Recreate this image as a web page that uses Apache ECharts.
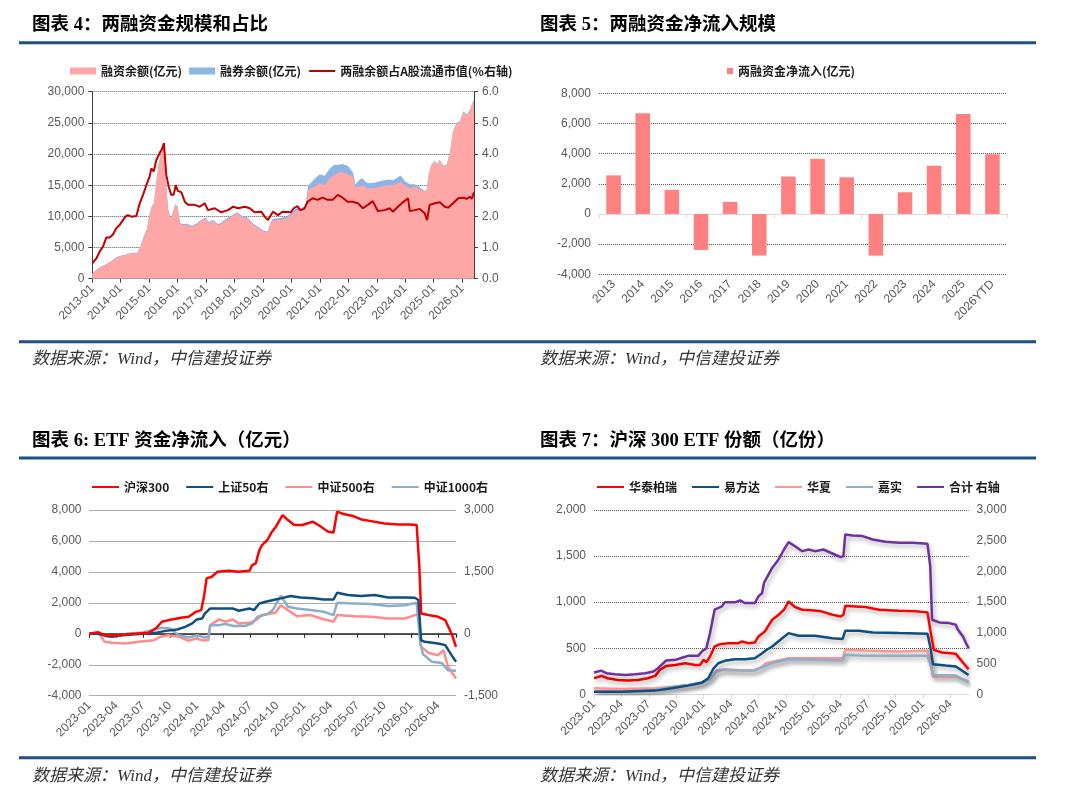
<!DOCTYPE html>
<html>
<head>
<meta charset="utf-8">
<title>两融资金与ETF资金流向</title>
<script src="https://cdn.jsdelivr.net/npm/echarts@6.0.0/dist/echarts.min.js"></script>
<style>
html, body { margin: 0; padding: 0; background: #fff; }
#main { width: 1080px; height: 798px; }
</style>
</head>
<body>
<div id="main"></div>
<script>
"use strict";

// 图表4：两融规模（x = 自2013-01起的月数）
var areaMonths = [0, 2, 4, 6, 8, 10, 12, 14, 16, 18, 19, 20, 21, 22, 23, 24, 25, 26, 27, 28, 29, 30, 31, 32, 33, 34, 35, 36, 37, 38, 40, 42, 44, 45, 47, 48, 49, 51, 53, 54, 56, 59, 61, 63, 65, 66, 68, 70, 72, 74, 75, 76, 77, 79, 82, 84, 86, 88, 89, 90, 91, 92, 94, 96, 98, 100, 102, 104, 105, 107, 108, 110, 111, 113, 114, 116, 119, 122, 125, 127, 130, 132, 134, 136, 138, 140, 141, 142, 143, 144.5, 145.5, 146.5, 148, 149.5, 151, 152, 153.5, 155, 156.5, 158, 159.5, 161];
var finBal = [800, 1450, 1950, 2300, 2750, 3350, 3600, 3800, 4000, 4050, 4100, 4850, 5800, 6900, 7700, 9900, 11300, 11800, 15500, 18200, 19800, 21600, 15800, 11000, 9500, 10500, 11800, 11400, 8800, 8600, 8650, 8350, 8700, 9000, 9500, 9600, 8900, 9250, 8600, 8700, 9300, 10000, 10500, 9950, 9700, 9450, 8600, 8100, 7600, 7400, 8700, 9300, 9400, 9400, 9700, 10200, 10900, 10900, 11000, 11300, 14000, 14500, 14800, 15300, 15000, 16000, 16700, 17000, 17100, 16900, 16700, 16300, 14700, 14800, 15000, 14500, 14500, 14800, 15000, 15000, 15500, 14900, 14500, 14800, 14400, 14000, 14100, 16900, 18200, 18800, 18300, 19000, 18000, 18200, 20400, 23300, 24800, 25100, 26700, 26200, 27100, 28700];
var secBal = [40, 50, 60, 70, 80, 80, 90, 90, 100, 100, 100, 120, 150, 180, 200, 220, 240, 250, 260, 260, 250, 250, 220, 200, 180, 170, 170, 160, 160, 160, 160, 160, 160, 170, 170, 180, 180, 180, 180, 180, 180, 180, 180, 180, 180, 180, 180, 180, 180, 180, 200, 220, 250, 280, 300, 350, 400, 450, 500, 550, 900, 800, 1300, 1450, 1500, 1600, 1600, 1300, 1300, 1340, 1340, 700, 450, 1200, 1070, 800, 900, 900, 900, 800, 1070, 700, 640, 370, 370, 120, 100, 100, 100, 120, 120, 120, 130, 130, 130, 140, 140, 140, 150, 150, 150, 150];
var ratioLine = [[0, 0.49], [1.7, 0.65], [3.1, 0.87], [4.5, 1.03], [5.9, 1.32], [7.3, 1.32], [8.7, 1.42], [10.1, 1.62], [11.5, 1.72], [12.9, 1.88], [13.9, 1.99], [15, 2.04], [16.5, 1.99], [18.6, 2.01], [20, 2.42], [21.4, 2.69], [22.8, 3.0], [24.2, 3.28], [24.9, 3.54], [25.9, 3.44], [27, 3.81], [28.4, 4.03], [29.4, 4.16], [30.2, 4.35], [31.2, 3.33], [32.2, 2.96], [33.3, 2.69], [34.3, 2.69], [35.2, 3.0], [36.1, 2.82], [37.6, 2.77], [39, 2.47], [40.4, 2.37], [43.2, 2.37], [45.3, 2.31], [47.4, 2.42], [48.8, 2.2], [51.6, 2.26], [54.4, 2.13], [57.2, 2.2], [59.4, 2.31], [61.5, 2.26], [64.3, 2.31], [66.4, 2.26], [68.5, 2.13], [71.3, 2.15], [72.7, 1.99], [74.1, 1.88], [76.2, 2.15], [78.3, 2.04], [80.2, 2.15], [83.7, 2.13], [85, 2.26], [86.5, 2.33], [87.7, 2.2], [89.4, 2.24], [90.8, 2.47], [92.9, 2.58], [95, 2.53], [97.1, 2.6], [99.3, 2.53], [101.4, 2.53], [103.5, 2.69], [105.6, 2.6], [107.7, 2.47], [109.8, 2.47], [112, 2.42], [114.1, 2.26], [116.2, 2.37], [118.3, 2.49], [120.4, 2.17], [123.3, 2.2], [125.4, 2.26], [126.8, 2.15], [128.9, 2.31], [131, 2.45], [133.2, 2.58], [133.9, 2.17], [136, 2.2], [138.1, 2.24], [140.2, 2.1], [141.2, 1.88], [142.3, 2.37], [144.5, 2.42], [146.6, 2.45], [148.7, 2.31], [150.1, 2.28], [152.2, 2.42], [154.3, 2.58], [156.5, 2.6], [157.9, 2.56], [159.3, 2.63], [160, 2.56], [161, 2.77]];

// 图表5：两融资金净流入
var flowYears = ['2013', '2014', '2015', '2016', '2017', '2018', '2019', '2020', '2021', '2022', '2023', '2024', '2025', '2026YTD'];
var flowVals = [2560, 6670, 1590, -2390, 800, -2760, 2480, 3650, 2430, -2760, 1440, 3200, 6630, 3960];

// 图表6：ETF资金净流入（x = 自2023-01起的月数；后三条为右轴数值）
var hs300Flow = [[0, 0], [1, 100], [1.7, -100], [3.2, -100], [5.1, 0], [6.6, 60], [7.4, 340], [8.1, 780], [9.2, 930], [10.4, 1060], [11.1, 1100], [11.9, 1420], [12.5, 1530], [12.8, 2390], [13.1, 3580], [13.7, 3690], [14.3, 4010], [15.6, 4070], [16.7, 4010], [17.9, 4070], [18.2, 4440], [18.6, 4550], [19, 5410], [19.3, 5730], [19.9, 6060], [20.3, 6490], [20.85, 6920], [21.6, 7670], [22.2, 7350], [22.9, 7030], [23.8, 7030], [25, 7240], [25.9, 6920], [26.7, 6600], [27.3, 6550], [27.7, 7890], [28.4, 7740], [29.5, 7610], [30.4, 7390], [31.5, 7280], [33, 7130], [34.5, 7070], [35.8, 7070], [36.6, 7030], [36.9, 4330], [37.1, 1310], [37.9, 1210], [39, 1100], [39.8, 880], [40.5, 20], [41, -840]];
var sz50Flow = [[0, 0], [1, 0], [1.7, -34], [2.5, -71], [3.6, -34], [5.1, -8], [6.6, 8], [7.4, 23], [8.5, 71], [9.8, 105], [10.7, 169], [11.5, 251], [12, 349], [12.6, 371], [12.9, 491], [13.5, 615], [14.5, 615], [16, 615], [16.7, 559], [17.9, 615], [18.4, 574], [19, 735], [19.7, 776], [20.8, 833], [21.4, 859], [22.5, 915], [23.6, 881], [25.1, 859], [26.2, 833], [27.3, 833], [27.7, 994], [28.9, 938], [30.4, 915], [31.9, 938], [33.4, 881], [35.3, 881], [36.4, 874], [36.8, 818], [37.1, -154], [37.5, -195], [39, -233], [39.8, -274], [40.5, -518], [41, -679]];
var zz500Flow = [[0, 0], [1, 23], [1.7, -195], [2.5, -218], [4, -233], [5.5, -195], [7.2, -154], [7.9, -71], [8.8, -34], [10, -71], [11.1, -169], [11.9, -113], [12.6, -154], [13.3, -154], [13.5, 210], [14.5, 349], [15.2, 293], [16, 349], [16.7, 251], [17.9, 266], [18.6, 330], [19.3, 454], [20.8, 510], [21.4, 694], [22.2, 574], [23.2, 428], [24.7, 454], [25.9, 371], [27.3, 293], [27.7, 454], [29.6, 428], [31.5, 413], [33.4, 371], [35.3, 371], [36.4, 454], [36.8, 454], [37.1, -315], [37.9, -461], [39, -518], [39.6, -398], [40.1, -799], [41, -1084]];
var zz1000Flow = [[0, 0], [1, 0], [2.1, -71], [3.2, -56], [4.3, 8], [5.8, 23], [7, 90], [8.1, 146], [9, 128], [10, -34], [11.1, -90], [12, -34], [12.9, -90], [13.3, -71], [13.5, 210], [14.5, 210], [15.2, 236], [16.1, 188], [17.4, 188], [18.2, 251], [18.8, 413], [19.9, 476], [20.5, 574], [21.4, 923], [22.2, 656], [23.2, 615], [24.7, 574], [26.2, 533], [27.3, 454], [27.7, 750], [29.6, 735], [31.5, 720], [33.4, 671], [35.3, 694], [36.6, 750], [37, -233], [37.3, -491], [38.3, -679], [39.4, -705], [40.1, -881], [41, -896]];

// 图表7：沪深300 ETF份额（合计为右轴）
var htbrShare = [[0, 174], [0.8, 200], [1.5, 174], [2.6, 156], [3.7, 149], [4.8, 156], [5.9, 174], [6.7, 200], [7.2, 265], [7.9, 308], [8.9, 319], [10, 337], [11.1, 319], [11.6, 319], [12, 374], [12.3, 348], [12.7, 410], [13.2, 519], [13.8, 544], [14.7, 555], [15.8, 555], [16.2, 573], [16.9, 555], [17.6, 562], [18, 628], [18.7, 682], [19.5, 809], [20.2, 863], [20.8, 918], [21.3, 1009], [22, 947], [22.8, 918], [23.8, 911], [24.9, 900], [26.1, 863], [27, 845], [27.3, 863], [27.5, 961], [28.6, 954], [29.7, 947], [31.2, 918], [33.4, 907], [35.2, 900], [36.5, 889], [36.8, 700], [37.2, 482], [38.1, 453], [39.6, 439], [39.8, 426], [40.4, 343], [41, 271]];
var efdShare = [[0, 29], [3, 29], [6.7, 40], [8.5, 65], [10.3, 94], [11.8, 127], [12.5, 174], [13.1, 283], [13.6, 337], [14.3, 363], [15.4, 381], [16.5, 381], [17.6, 392], [18.4, 446], [18.9, 483], [19.5, 519], [20.6, 609], [21.3, 664], [22.4, 635], [24.2, 635], [26.1, 609], [27.2, 599], [27.5, 689], [29, 689], [30.5, 671], [33.4, 664], [36.5, 657], [36.8, 519], [37.1, 327], [38.5, 312], [39.6, 301], [39.8, 300], [41, 209]];
var hxShare = [[0, 65], [3, 58], [6.7, 65], [8.5, 83], [10.3, 102], [11.8, 120], [12.7, 174], [13.4, 258], [14.3, 272], [16.5, 258], [17.6, 265], [18.4, 301], [18.8, 337], [19.7, 356], [21.3, 392], [24.2, 392], [27.2, 392], [27.5, 483], [29.7, 475], [33.4, 464], [36.5, 475], [36.8, 374], [37.1, 192], [39.6, 192], [41, 140]];
var jsShare = [[0, 29], [3, 27], [6.7, 47], [8.5, 76], [10.3, 102], [11.8, 127], [12.7, 163], [13.4, 247], [14.3, 265], [16.5, 258], [17.6, 258], [18.4, 294], [19.7, 345], [21.3, 381], [24.2, 374], [27.2, 366], [27.5, 428], [29.7, 417], [33.4, 417], [36.5, 417], [36.9, 301], [37.1, 210], [39.6, 203], [41, 130]];
var totalShare = [[0, 354], [0.8, 386], [1.35, 343], [2.3, 327], [3.4, 316], [4.5, 327], [5.6, 343], [6.5, 370], [7, 425], [7.9, 550], [8.9, 561], [9.8, 604], [10.3, 626], [11.4, 626], [11.8, 697], [12.3, 751], [12.7, 996], [13.2, 1377], [14, 1431], [14.3, 1497], [15.4, 1497], [16, 1529], [16.5, 1486], [17.6, 1486], [18, 1595], [18.4, 1649], [18.6, 1813], [18.9, 1894], [19.5, 2057], [20.2, 2194], [20.8, 2357], [21.3, 2477], [22, 2411], [22.8, 2330], [23.5, 2357], [24.2, 2330], [25.1, 2357], [26.1, 2292], [27, 2232], [27.3, 2248], [27.5, 2602], [28.3, 2585], [29.4, 2575], [30.5, 2520], [31.9, 2482], [33.4, 2466], [34.9, 2466], [36.5, 2449], [36.8, 2085], [37, 1214], [37.8, 1170], [38.9, 1159], [39.6, 1132], [39.8, 1058], [40.4, 938], [40.7, 840], [41, 749]];

var SANS = '"Liberation Sans", "Noto Sans CJK SC", sans-serif';
var CJK = '"Noto Sans CJK SC", sans-serif';
var TITLE = '"Liberation Serif", "Noto Sans CJK SC", serif';
var GRID_LINE = { show: true, lineStyle: { color: '#595959', type: 'dotted', width: 1 } };
var AXIS_LABEL = { color: '#595959', fontSize: 12, fontFamily: SANS };

function fmtThousands(v) {
	return v.toLocaleString('en-US');
}
function yearLabel(v) {
	return v % 12 === 0 ? (2013 + v / 12) + '-01' : '';
}
function quarterLabel(v) {
	if (v % 3 !== 0) return '';
	var y = 2023 + Math.floor(v / 12);
	var m = v % 12 + 1;
	return y + '-' + (m < 10 ? '0' : '') + m;
}
// 图例里的折线只画线，不要中间的小圆点
function lineItem(name) {
	return { name: name, itemStyle: { opacity: 0 } };
}

// 融券叠在融资上面：蓝色面积画总额，粉色盖在下面
var finData = areaMonths.map(function (m, i) { return [m, finBal[i]]; });
var totalData = areaMonths.map(function (m, i) { return [m, finBal[i] + secBal[i]]; });

function lineSeries(name, data, color, xIdx, yIdx, z, shadow) {
	var ls = { color: color, width: 2.5 };
	if (shadow) {
		ls.shadowColor = 'rgba(0,0,0,0.3)';
		ls.shadowBlur = 4;
		ls.shadowOffsetX = 2;
		ls.shadowOffsetY = 3;
	}
	return {
		name: name, type: 'line', xAxisIndex: xIdx, yAxisIndex: yIdx,
		data: data, symbol: 'none', z: z,
		itemStyle: { color: color }, lineStyle: ls
	};
}

var myChart = echarts.init(document.getElementById('main'), null, { renderer: 'canvas' });

var ruleColor = '#1D5181';
var graphics = [];
[42.7, 341.7, 458, 757.7].forEach(function (y) {
	graphics.push({ type: 'rect', shape: { x: 19, y: y - 1.5, width: 1017, height: 3 }, style: { fill: ruleColor }, silent: true });
});
var titles = [
	['图表 4：两融资金规模和占比', 32, 25],
	['图表 5：两融资金净流入规模', 540, 25],
	['图表 6: ETF 资金净流入（亿元）', 32, 441.7],
	['图表 7：沪深 300 ETF 份额（亿份）', 540, 441.7]
];
titles.forEach(function (t) {
	graphics.push({ type: 'text', x: t[1], y: t[2], silent: true,
		style: { text: t[0], fill: '#000', fontSize: 18.5, fontWeight: 'bold', fontFamily: TITLE, verticalAlign: 'middle' } });
});
[[32, 359.5], [540, 359.5], [32, 776.5], [540, 776.5]].forEach(function (p) {
	graphics.push({ type: 'text', x: p[0], y: p[1], silent: true,
		style: { text: '数据来源：Wind，中信建投证券', fill: '#333', fontSize: 17, fontStyle: 'italic', fontFamily: TITLE, verticalAlign: 'middle' } });
});

var legendText = { fontSize: 12, fontFamily: CJK, color: '#1a1a1a', fontWeight: 'bold' };

var option = {
	animation: false,
	backgroundColor: '#fff',
	graphic: { elements: graphics },
	legend: [
		{ left: 65, top: 60, itemWidth: 26, itemHeight: 7, itemGap: 7, textStyle: legendText,
		  data: [{ name: '融资余额(亿元)', icon: 'rect' }, { name: '融券余额(亿元)', icon: 'rect' }, lineItem('两融余额占A股流通市值(%右轴)')] },
		{ left: 722, top: 60, itemWidth: 6, itemHeight: 6, textStyle: legendText,
		  data: [{ name: '两融资金净流入(亿元)', icon: 'rect' }] },
		{ left: 86, top: 476, itemWidth: 27, itemHeight: 10, itemGap: 16, textStyle: legendText,
		  data: ['沪深300', '上证50右', '中证500右', '中证1000右'].map(lineItem) },
		{ left: 591, top: 476, itemWidth: 27, itemHeight: 10, itemGap: 14, textStyle: legendText,
		  data: ['华泰柏瑞', '易方达', '华夏', '嘉实', '合计 右轴'].map(lineItem) }
	],
	grid: [
		{ left: 92.3, right: 606, top: 91.7, height: 187, containLabel: false, outerBoundsMode: 'none' },
		{ left: 599, right: 73, top: 93.3, height: 181, containLabel: false, outerBoundsMode: 'none' },
		{ left: 89.5, right: 624, top: 510, height: 185.7, containLabel: false, outerBoundsMode: 'none' },
		{ left: 594, right: 111.4, top: 510, height: 184.3, containLabel: false, outerBoundsMode: 'none' }
	],
	xAxis: [
		// 0 图表4
		{ type: 'value', gridIndex: 0, min: 0, max: 161, interval: 12,
		  axisLine: { show: true, lineStyle: { color: '#404040' } },
		  axisTick: { show: true, length: 4, lineStyle: { color: '#404040' } },
		  axisLabel: Object.assign({ rotate: 45, formatter: yearLabel, showMaxLabel: false }, AXIS_LABEL),
		  splitLine: { show: false } },
		// 1 图表5 标签
		{ type: 'category', gridIndex: 1, data: flowYears, position: 'bottom',
		  axisLine: { show: false, onZero: false }, axisTick: { show: false },
		  axisLabel: Object.assign({ rotate: 45, interval: 0 }, AXIS_LABEL), splitLine: { show: false } },
		// 2 图表5 零轴
		{ type: 'category', gridIndex: 1, data: flowYears, position: 'top',
		  axisLine: { show: true, onZero: true, lineStyle: { color: '#D9D9D9' } },
		  axisTick: { show: true, inside: true, length: 4, lineStyle: { color: '#D9D9D9' } },
		  axisLabel: { show: false }, splitLine: { show: false } },
		// 3 图表6 标签
		{ type: 'value', gridIndex: 2, min: 0, max: 41, interval: 3, position: 'bottom',
		  axisLine: { show: false, onZero: false }, axisTick: { show: false },
		  axisLabel: Object.assign({ rotate: 45, formatter: quarterLabel, showMaxLabel: false }, AXIS_LABEL),
		  splitLine: { show: false } },
		// 4 图表6 零轴
		{ type: 'value', gridIndex: 2, min: 0, max: 41, interval: 3, position: 'top',
		  axisLine: { show: true, onZero: true, lineStyle: { color: '#262626', width: 1.5 } },
		  axisTick: { show: true, inside: true, length: 4, lineStyle: { color: '#262626' } },
		  axisLabel: { show: false }, splitLine: { show: false } },
		// 5 图表7
		{ type: 'value', gridIndex: 3, min: 0, max: 41, interval: 3,
		  axisLine: { show: true, lineStyle: { color: '#D9D9D9' } },
		  axisTick: { show: true, length: 4, lineStyle: { color: '#D9D9D9' } },
		  axisLabel: Object.assign({ rotate: 45, formatter: quarterLabel, showMaxLabel: false }, AXIS_LABEL),
		  splitLine: { show: false } }
	],
	yAxis: [
		// 0,1 图表4
		{ type: 'value', gridIndex: 0, min: 0, max: 30000, interval: 5000,
		  axisLine: { show: true, lineStyle: { color: '#404040' } },
		  axisTick: { show: true, length: 4, lineStyle: { color: '#404040' } },
		  axisLabel: Object.assign({ formatter: fmtThousands }, AXIS_LABEL), splitLine: GRID_LINE },
		{ type: 'value', gridIndex: 0, min: 0, max: 6, interval: 1, position: 'right',
		  axisLine: { show: true, lineStyle: { color: '#404040' } },
		  axisTick: { show: true, length: 4, lineStyle: { color: '#404040' } },
		  axisLabel: Object.assign({ formatter: function (v) { return v.toFixed(1); } }, AXIS_LABEL),
		  splitLine: { show: false } },
		// 2 图表5
		{ type: 'value', gridIndex: 1, min: -4000, max: 8000, interval: 2000,
		  axisLine: { show: false }, axisTick: { show: false },
		  axisLabel: Object.assign({ formatter: fmtThousands }, AXIS_LABEL), splitLine: GRID_LINE },
		// 3,4 图表6
		{ type: 'value', gridIndex: 2, min: -4000, max: 8000, interval: 2000,
		  axisLine: { show: false }, axisTick: { show: false },
		  axisLabel: Object.assign({ formatter: fmtThousands }, AXIS_LABEL), splitLine: GRID_LINE },
		{ type: 'value', gridIndex: 2, min: -1500, max: 3000, interval: 1500, position: 'right',
		  axisLine: { show: false }, axisTick: { show: false },
		  axisLabel: Object.assign({ formatter: fmtThousands }, AXIS_LABEL), splitLine: { show: false } },
		// 5,6 图表7
		{ type: 'value', gridIndex: 3, min: 0, max: 2000, interval: 500,
		  axisLine: { show: false }, axisTick: { show: false },
		  axisLabel: Object.assign({ formatter: fmtThousands }, AXIS_LABEL), splitLine: GRID_LINE },
		{ type: 'value', gridIndex: 3, min: 0, max: 3000, interval: 500, position: 'right',
		  axisLine: { show: false }, axisTick: { show: false },
		  axisLabel: Object.assign({ formatter: fmtThousands }, AXIS_LABEL), splitLine: { show: false } }
	],
	series: [
		{ name: '融券余额(亿元)', type: 'line', xAxisIndex: 0, yAxisIndex: 0, data: totalData,
		  symbol: 'none', z: 2, itemStyle: { color: '#8DB4E2' }, lineStyle: { width: 0 },
		  areaStyle: { color: '#8DB4E2', opacity: 1 } },
		{ name: '融资余额(亿元)', type: 'line', xAxisIndex: 0, yAxisIndex: 0, data: finData,
		  symbol: 'none', z: 3, itemStyle: { color: '#FFA6A6' }, lineStyle: { width: 0 },
		  areaStyle: { color: '#FFA6A6', opacity: 1 } },
		{ name: '两融余额占A股流通市值(%右轴)', type: 'line', xAxisIndex: 0, yAxisIndex: 1, data: ratioLine,
		  symbol: 'none', z: 4, itemStyle: { color: '#C00000' }, lineStyle: { color: '#C00000', width: 2 } },

		{ name: '两融资金净流入(亿元)', type: 'bar', xAxisIndex: 1, yAxisIndex: 2, data: flowVals,
		  barWidth: '50%', itemStyle: { color: '#FF8080' } },

		lineSeries('沪深300', hs300Flow, '#FF0000', 3, 3, 6, false),
		lineSeries('上证50右', sz50Flow, '#0E4F7F', 3, 4, 5, false),
		lineSeries('中证500右', zz500Flow, '#FF8C8C', 3, 4, 3, false),
		lineSeries('中证1000右', zz1000Flow, '#8CACC8', 3, 4, 4, false),

		lineSeries('华泰柏瑞', htbrShare, '#FF0000', 5, 5, 6, true),
		lineSeries('易方达', efdShare, '#0E4F7F', 5, 5, 5, true),
		lineSeries('华夏', hxShare, '#FF9494', 5, 5, 3, true),
		lineSeries('嘉实', jsShare, '#8FAECB', 5, 5, 4, true),
		lineSeries('合计 右轴', totalShare, '#7030A0', 5, 6, 7, true)
	]
};
myChart.setOption(option);
</script>
</body>
</html>
